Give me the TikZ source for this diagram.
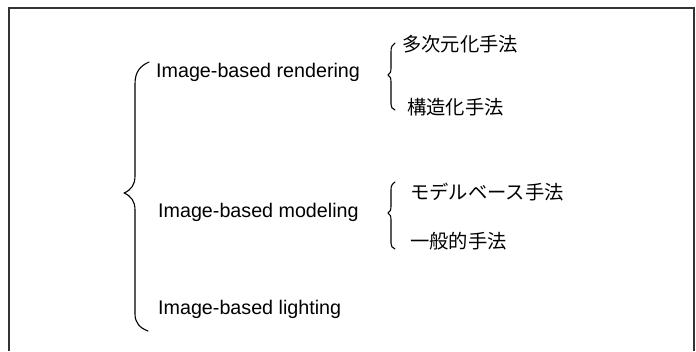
\documentclass[tikz,border=0pt]{standalone}
\usepackage{fontspec}
\setmainfont{Liberation Sans}
\newfontfamily\jpfont{Noto Sans CJK JP}
\begin{document}
\begin{tikzpicture}[x=1pt,y=-1pt,
  lat/.style={anchor=base west, inner sep=0pt, font=\fontsize{19.7}{22}\selectfont},
  jpn/.style={anchor=base west, inner sep=0pt, font=\jpfont\fontsize{19.3}{22}\selectfont},
  bracepath/.style={line width=1.1pt, line cap=round, line join=round},
  frameline/.style={line width=1.2pt, draw=black!80}]
\useasboundingbox (0,0) rectangle (696,351);
% frame
\draw[frameline] (9,351) -- (9,8) -- (694,8) -- (694,351);
% texts
\node[lat] (ibr) at (156,77) {Image-based rendering};
\node[lat] (ibm) at (158,217) {Image-based modeling};
\node[lat] (ibl) at (158,314) {Image-based lighting};
\node[jpn] (m1) at (402,51) {多次元化手法};
\node[jpn] (m2) at (407,114.5) {構造化手法};
\node[jpn] (m3) at (410,199.5) {モデルベース手法};
\node[jpn] (m4) at (410,248.5) {一般的手法};
% big brace
\draw[bracepath] (149,62) .. controls (140,66) and (135,72) .. (135,84) -- (135,176)
  .. controls (135,185) and (131,190) .. (124,193)
  .. controls (131,196) and (135,201) .. (135,210) -- (135,314)
  .. controls (135,323) and (140,328) .. (148,331);
% small braces
\draw[bracepath] (395,43) .. controls (392,45) and (391,47) .. (391,52) -- (391,68)
  .. controls (391,72) and (390,74) .. (388,75)
  .. controls (390,76) and (391,78) .. (391,82) -- (391,104)
  .. controls (391,107) and (392,109) .. (395,110);
\draw[bracepath] (395,182) .. controls (392,184) and (391,186) .. (391,190) -- (391,206)
  .. controls (391,210) and (390,212) .. (388,213)
  .. controls (390,214) and (391,216) .. (391,220) -- (391,243)
  .. controls (391,246) and (392,248) .. (395,249);
\end{tikzpicture}
\end{document}
